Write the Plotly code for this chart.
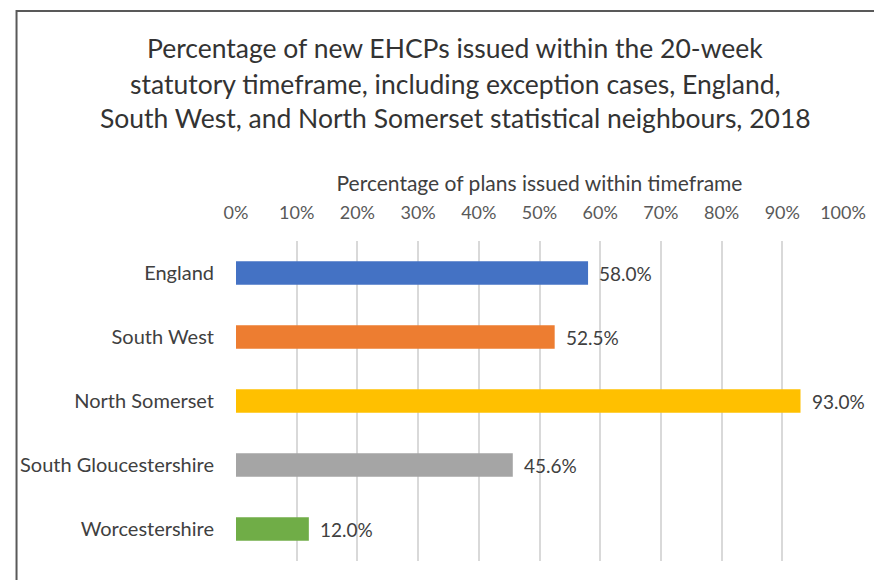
import plotly.graph_objects as go

categories = ["England", "South West", "North Somerset", "South Gloucestershire", "Worcestershire"]
values = [58.0, 52.5, 93.0, 45.6, 12.0]
colors = ["#4472C4", "#ED7D31", "#FFC000", "#A5A5A5", "#70AD47"]
tick_vals = [0, 10, 20, 30, 40, 50, 60, 70, 80, 90, 100]
tick_text = [f"{v}%" for v in tick_vals]
title_lines = [
    "Percentage of new EHCPs issued within the 20-week",
    "statutory timeframe, including exception cases, England,",
    "South West, and North Somerset statistical neighbours, 2018",
]
axis_title = "Percentage of plans issued within timeframe"

FONT = "Lato"
W, H = 874, 572
L, R, T, B = 221, 39, 233, 19
PW, PH = W - L - R, H - T - B


def px(x):
    return (x - L) / PW


def py(y):
    return (H - B - y) / PH


fig = go.Figure()
fig.add_trace(go.Bar(
    x=values, y=categories, orientation="h",
    marker=dict(color=colors, line=dict(width=0)),
    width=0.37, showlegend=False, hoverinfo="skip",
))

annotations = []
for c, v in zip(categories, values):
    annotations.append(dict(
        x=v, y=c, xref="x", yref="y", text=f"{v:.1f}%", showarrow=False,
        xanchor="left", xshift=9, font=dict(family=FONT, size=19, color="#404040"),
    ))
title_y = [40, 76, 110]
for line, yy in zip(title_lines, title_y):
    annotations.append(dict(
        x=px(443), y=py(yy), xref="paper", yref="paper",
        text=line, showarrow=False, xanchor="center", yanchor="middle",
        font=dict(family=FONT, size=26.5, color="#333333"),
    ))

fig.update_layout(
    width=W, height=H,
    margin=dict(l=L, r=R, t=T, b=B),
    paper_bgcolor="white", plot_bgcolor="white",
    annotations=annotations,
    xaxis=dict(
        side="top", range=[0, 100], tickvals=tick_vals, ticktext=tick_text,
        showgrid=True, gridcolor="#D9D9D9", gridwidth=1.5, zeroline=False,
        showline=False, ticks="", ticklabelstandoff=17,
        tickfont=dict(family=FONT, size=18, color="#595959"),
        title=dict(text=axis_title, font=dict(family=FONT, size=21, color="#404040"), standoff=4),
        fixedrange=True,
    ),
    yaxis=dict(
        categoryorder="array", categoryarray=categories, autorange="reversed",
        showgrid=False, zeroline=False, showline=False, ticks="",
        ticklabelstandoff=21,
        tickfont=dict(family=FONT, size=20, color="#404040"),
        fixedrange=True,
    ),
    shapes=[dict(
        type="rect", xref="paper", yref="paper",
        x0=px(-1), x1=1.2, y0=-0.3, y1=py(3),
        line=dict(color="#595959", width=2), fillcolor="rgba(0,0,0,0)", layer="below",
    )],
)

fig.write_html("out.html")
